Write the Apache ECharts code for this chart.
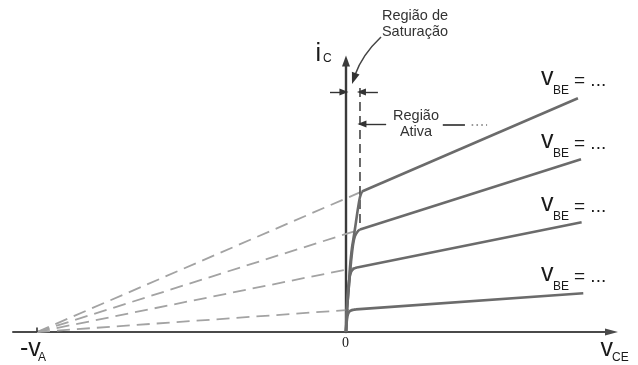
<!DOCTYPE html>
<html>
<head>
<meta charset="utf-8">
<script src="https://cdn.jsdelivr.net/npm/echarts@6/dist/echarts.min.js"></script>
<style>
  html, body { margin: 0; padding: 0; background: #fff; }
  #chart { width: 638px; height: 365px; }
</style>
</head>
<body>
<div id="chart"></div>
<script>
// Early voltage: extrapolated active-region lines of a BJT meet the v_CE axis at -V_A
const earlyVoltage = 30;

// Knee of each i_C curve (end of saturation, start of the active region)
const kneeVce = [1.55, 1.36, 1.07, 0.97];
const kneeIc  = [14.05, 10.25, 6.46, 2.26];

// Far end of each active-region line
const endVce = [22.52, 22.82, 22.88, 23.04];
const endIc  = [23.37, 17.27, 10.97, 3.87];

// Saturation part of each curve, from the origin up to its knee
const satVce = [
  [0, 0.1, 0.29, 0.39, 0.58, 0.78, 0.97, 1.17, 1.36, 1.55],
  [0, 0.1, 0.29, 0.49, 0.68, 0.87, 1.17, 1.36],
  [0, 0.05, 0.15, 0.29, 0.49, 0.78, 1.07],
  [0, 0.05, 0.15, 0.29, 0.49, 0.73, 0.97]
];
const satIc = [
  [0, 2.2, 4.7, 6.5, 8.4, 9.7, 11.0, 12.4, 13.5, 14.05],
  [0, 2.2, 4.7, 7.0, 8.7, 9.6, 10.1, 10.25],
  [0, 1.7, 3.7, 5.1, 6.0, 6.35, 6.46],
  [0, 0.8, 1.6, 2.0, 2.15, 2.22, 2.26]
];

// Boundary between saturation and active region
const satEdgeVce = 1.36;
const satEdgeIc = [10.4, 24.4];

const curveLabels = ['BE', 'BE', 'BE', 'BE'];

const solidColor = '#6b6b6b';
const dashColor = '#a3a3a3';
const inkColor = '#333';

const chart = echarts.init(document.getElementById('chart'), null, { renderer: 'canvas' });

const series = [];

// dashed extrapolation back to -V_A
kneeVce.forEach((kx, i) => {
  series.push({
    type: 'line', symbol: 'none', silent: true, z: 1,
    lineStyle: { color: dashColor, width: 1.8, type: [13, 7] },
    data: [[-earlyVoltage, 0], [kx, kneeIc[i]]]
  });
});

// saturation curves
satVce.forEach((xs, i) => {
  series.push({
    type: 'line', symbol: 'none', silent: true, smooth: 0.3, z: 3,
    lineStyle: { color: solidColor, width: 2.6 },
    data: xs.map((x, j) => [x, satIc[i][j]])
  });
});

// active-region lines
kneeVce.forEach((kx, i) => {
  series.push({
    type: 'line', symbol: 'none', silent: true, z: 3,
    lineStyle: { color: solidColor, width: 2.6 },
    data: [[kx, kneeIc[i]], [endVce[i], endIc[i]]]
  });
});

// saturation edge
series.push({
  type: 'line', symbol: 'none', silent: true, z: 2,
  lineStyle: { color: '#444', width: 1.6, type: [9, 5] },
  data: [[satEdgeVce, satEdgeIc[1]], [satEdgeVce, satEdgeIc[0]]]
});

// small tick at -V_A
series.push({
  type: 'line', symbol: 'none', silent: true, z: 4,
  lineStyle: { color: '#333', width: 1.6 },
  data: [[-earlyVoltage, 0], [-earlyVoltage, 0.45]]
});

// region arrows
series.push({
  type: 'line', symbol: 'none', silent: true, data: [],
  markLine: {
    silent: true, animation: false,
    symbol: ['none', 'triangle'], symbolSize: [7, 9],
    label: { show: false },
    lineStyle: { color: '#333', width: 1.4, type: 'solid' },
    data: [
      [{ coord: [-1.55, 24.0] }, { coord: [-0.2, 24.0] }],
      [{ coord: [3.1, 24.0] }, { coord: [1.5, 24.0] }],
      [{ coord: [3.9, 20.8] }, { coord: [1.55, 20.8] }],
      [{ coord: [9.4, 20.7], symbol: 'none' }, { coord: [11.55, 20.7], symbol: 'none',
        lineStyle: { color: '#555', width: 2 } }],
      [{ coord: [12.2, 20.7], symbol: 'none' }, { coord: [13.7, 20.7], symbol: 'none',
        lineStyle: { color: '#777', width: 1.6, type: [1.6, 3.2] } }]
    ]
  }
});

const sans = '"Liberation Sans", Arial, sans-serif';
function txt(text, x, baseline, size, opts) {
  opts = opts || {};
  return {
    type: 'text', x: x, y: baseline - 0.33 * size, silent: true, z: 100,
    style: {
      text: text,
      font: size + 'px ' + (opts.family || sans),
      fill: opts.fill || '#1a1a1a',
      align: opts.align || 'left',
      verticalAlign: 'middle'
    }
  };
}

const vbeBaselines = [86, 149, 212, 282];
const graphics = [];
vbeBaselines.forEach((b, i) => {
  graphics.push(txt('v', 541, b, 25));
  graphics.push(txt(curveLabels[i], 553, b + 8.3, 12));
  graphics.push(txt('= ...', 574, b + 1.5, 19));
});
graphics.push(txt('i', 315.5, 62, 25));
graphics.push(txt('C', 323, 63, 12));
graphics.push(txt('v', 600.5, 357, 25));
graphics.push(txt('CE', 612, 362, 12));
graphics.push(txt('-v', 20, 357, 25));
graphics.push(txt('A', 38, 362, 12));
graphics.push(txt('0', 345.5, 348.3, 14, { family: '"Liberation Serif", serif', align: 'center' }));
graphics.push(txt('Região de', 415, 20.7, 14.5, { fill: inkColor, align: 'center' }));
graphics.push(txt('Saturação', 415, 36.5, 14.5, { fill: inkColor, align: 'center' }));
graphics.push(txt('Região', 416, 120.7, 14.5, { fill: inkColor, align: 'center' }));
graphics.push(txt('Ativa', 416, 136.7, 14.5, { fill: inkColor, align: 'center' }));

// curved pointer to the saturation region
graphics.push({
  type: 'bezierCurve', silent: true, z: 100,
  shape: { x1: 381, y1: 37, cpx1: 362, cpy1: 55, x2: 355, y2: 75 },
  style: { stroke: '#444', lineWidth: 1.5, fill: null }
});
graphics.push({
  type: 'polygon', silent: true, z: 100,
  shape: { points: [[352, 84], [359.5, 74.6], [351.9, 71.8]] },
  style: { fill: '#333' }
});

chart.setOption({
  animation: false,
  backgroundColor: '#fff',
  grid: { left: 13, right: 26.5, top: 61, bottom: 33, containLabel: false },
  xAxis: {
    type: 'value', min: -32.33, max: 25.78,
    axisLine: { onZero: true, symbol: ['none', 'triangle'], symbolSize: [7, 13],
      lineStyle: { color: '#4a4a4a', width: 2 } },
    axisTick: { show: false }, axisLabel: { show: false }, splitLine: { show: false }
  },
  yAxis: {
    type: 'value', min: 0, max: 27.1,
    axisLine: { onZero: true, symbol: ['none', 'triangle'], symbolSize: [8, 11],
      lineStyle: { color: '#3a3a3a', width: 2.4 } },
    axisTick: { show: false }, axisLabel: { show: false }, splitLine: { show: false }
  },
  series: series,
  graphic: graphics
});
</script>
</body>
</html>
